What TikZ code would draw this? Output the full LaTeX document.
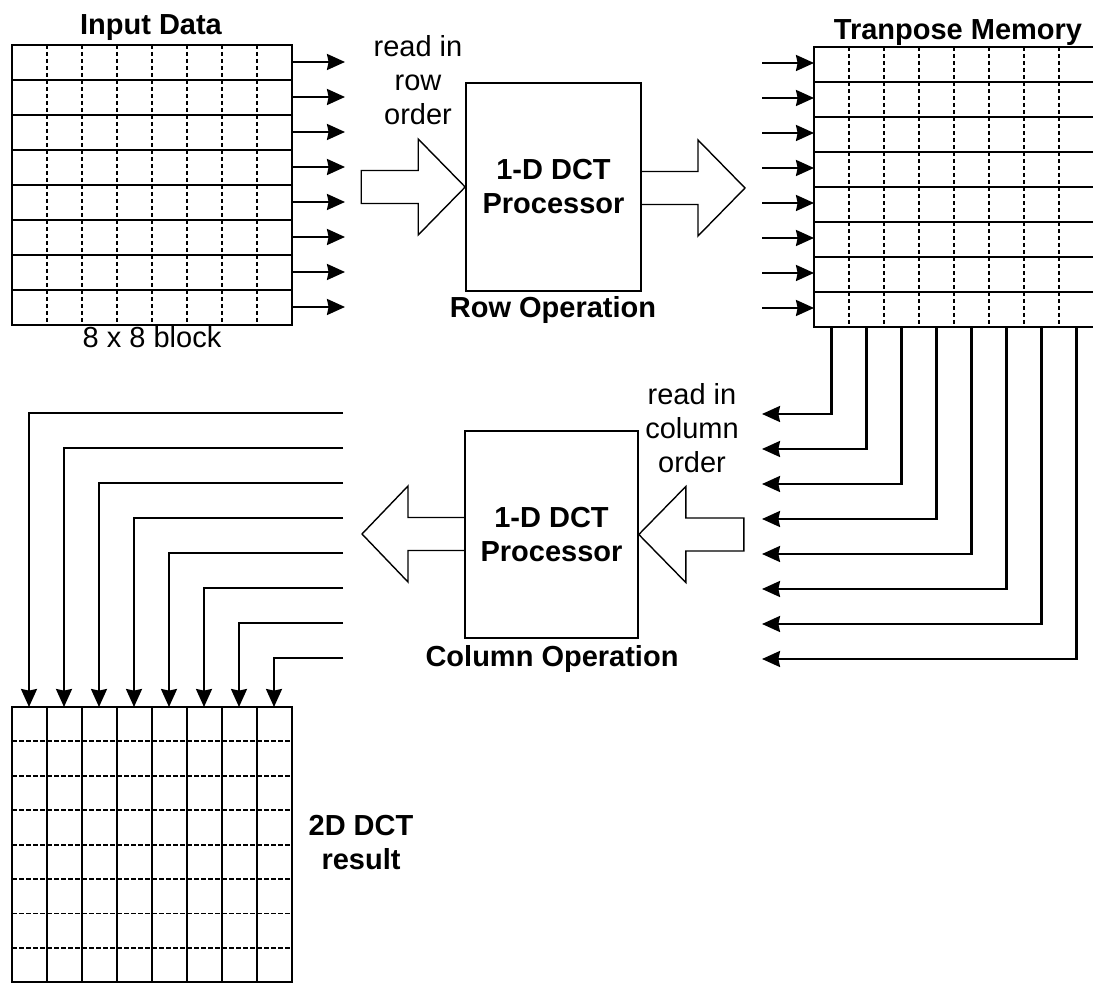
\documentclass[tikz,border=0pt]{standalone}
\usepackage{fontspec}
\setmainfont{Liberation Sans}
\usetikzlibrary{calc,arrows.meta}

\begin{document}
\begin{tikzpicture}[x=0.5pt,y=-0.5pt,
        every node/.style={font=\fontsize{14.5}{17}\selectfont},
        bold/.style={font=\fontsize{14.5}{17}\selectfont\bfseries},
        grid/.style={line width=1.1pt},
        cellline/.style={line width=0.9pt,dash pattern=on 2pt off 1.5pt},
        feed/.style={line width=1.1pt,-{Stealth[length=9pt,width=8pt,inset=0.8pt]}},
        proc/.style={draw,line width=0.8pt,minimum width=87.5pt,minimum height=104pt,
            align=center,inner sep=0pt,bold},
        fat/.style={draw,line width=0.7pt,line join=miter}]
        \useasboundingbox (0,0) rectangle (1093,983);

        % Input block 8x8: solid rows, dashed columns
        \coordinate (in) at (12,45);
        \draw[grid] (in) rectangle ++(280,280);
        \foreach \k in {1,...,7} {
            \draw[grid] ($(in)+(0,35*\k)$) -- ++(280,0);
            \draw[cellline] ($(in)+(35*\k,0)$) -- ++(0,280);
        }
        \node[bold,anchor=base] (inlbl) at (151,35) {Input Data};
        \node[anchor=base] (blklbl) at (152,348) {8 x 8 block};

        % Transpose memory
        \coordinate (tm) at (814,47);
        \draw[grid] (tm) rectangle ++(282,280);
        \foreach \k in {1,...,7} {
            \draw[grid] ($(tm)+(0,35*\k)$) -- ++(282,0);
            \draw[cellline] ($(tm)+(35*\k,0)$) -- ++(0,280);
        }
        \node[bold,anchor=base] (tmlbl) at (958,40) {Tranpose Memory};

        % Row read-out and write-in arrows
        \foreach \k in {0,...,7} {
            \coordinate (ro\k) at ($(in)+(280,17+35*\k)$);
            \coordinate (roe\k) at ($(ro\k)+(53,0)$);
            \coordinate (wi\k) at ($(tm)+(-52,16+35*\k)$);
            \coordinate (wie\k) at ($(tm)+(0,16+35*\k)$);
            \draw[feed] (ro\k) -- (roe\k);
            \draw[feed] (wi\k) -- (wie\k);
        }

        % Row operation
        \node[proc] (rowproc) at (553.5,187) {1-D DCT\\Processor};
        \node[bold,anchor=base] (rowlbl) at (553,318) {Row Operation};
        \node[align=center] (rowtxt) at (418,80) {read in\\row\\order};
        \draw[fat] (rowproc.west) -- ++(-47,-48) -- ++(0,31.5) -- ++(-57,0)
            -- ++(0,33) -- ++(57,0) -- ++(0,31.5) -- cycle;
        \coordinate (rowout) at (745,188);
        \draw[fat] (rowout) -- ++(-47,-48) -- ++(0,31.5) -- ++(-57,0)
            -- ++(0,33) -- ++(57,0) -- ++(0,31.5) -- cycle;

        % Column read-out of the transpose memory
        \foreach \k in {0,...,7} {
            \coordinate (tb\k) at ($(tm)+(17.5+35*\k,280)$);
            \coordinate (cr\k) at (762,414+35*\k);
            \draw[feed] (tb\k) |- (cr\k);
        }

        % Column operation
        \node[proc,minimum width=86.5pt,minimum height=103.5pt] (colproc) at (551.5,534.5) {1-D DCT\\Processor};
        \node[bold,anchor=base] (collbl) at (552,667) {Column Operation};
        \node[align=center] (coltxt) at (692,428) {read in\\column\\order};
        \draw[fat] (colproc.east) -- ++(47,-48) -- ++(0,31.5) -- ++(58,0)
            -- ++(0,33) -- ++(-58,0) -- ++(0,31.5) -- cycle;
        \coordinate (colout) at (362,534);
        \draw[fat] (colout) -- ++(46,-48) -- ++(0,31.5) -- ++(57,0)
            -- ++(0,33) -- ++(-57,0) -- ++(0,31.5) -- cycle;

        % Result block: solid columns, dashed rows
        \coordinate (res) at (12,707);
        \draw[grid] (res) rectangle ++(280,275);
        \foreach \k in {1,...,7} {
            \draw[grid] ($(res)+(35*\k,0)$) -- ++(0,275);
            \draw[cellline,dash pattern=on 2.5pt off 1pt] ($(res)+(0,34.4*\k)$) -- ++(280,0);
        }
        \foreach \k in {0,...,7} {
            \coordinate (lo\k) at (343,413+35*\k);
            \coordinate (rt\k) at ($(res)+(17+35*\k,0)$);
            \draw[feed] (lo\k) -| (rt\k);
        }
        \node[bold,align=center] (reslbl) at (361,843) {2D DCT\\result};
\end{tikzpicture}
\end{document}
